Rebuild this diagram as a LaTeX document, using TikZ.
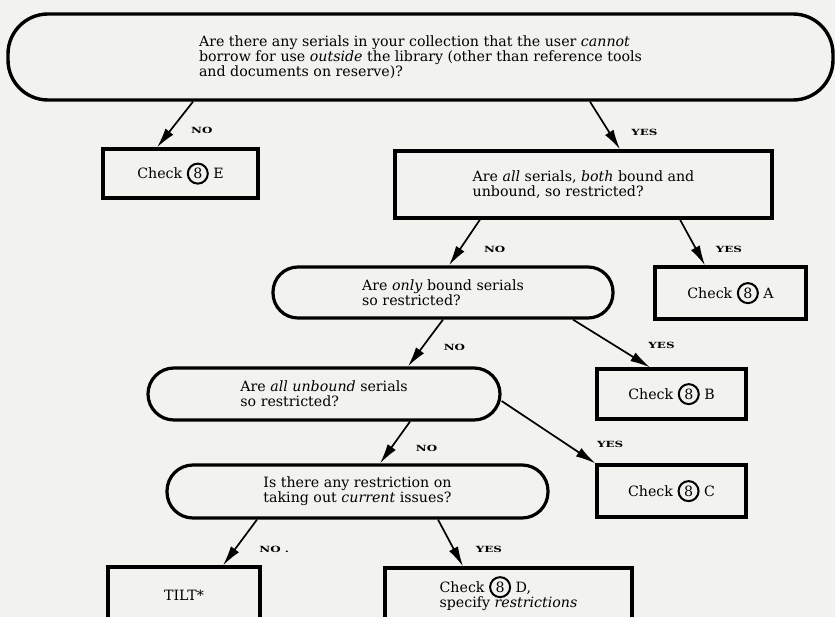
\documentclass[tikz,border=0pt]{standalone}
\usepackage{fontspec}
\setmainfont{DejaVu Serif}
\newfontfamily\lblfont[FakeStretch=1.4]{DejaVu Serif}
\usetikzlibrary{arrows.meta}
\definecolor{paper}{RGB}{242,242,239}
\newcommand{\circnum}[1]{\smash{\tikz[baseline=(cn.base)]\node[circle,draw=black,line width=2pt,inner sep=1.5pt,minimum width=0pt,minimum height=0pt,minimum size=20pt] (cn) {#1};}}
\tikzset{
	box/.style={draw=black,line width=3.2pt,inner sep=0pt,align=left,font=\fontsize{14.2}{15}\selectfont},
	stadium/.style={box,rounded corners=#1},
	stadium/.default=26pt,
	flow/.style={line width=1.7pt,-{Latex[length=20pt,width=10pt]}},
	lbl/.style={anchor=west,inner sep=0pt,font=\lblfont\bfseries\fontsize{8.5}{9}\selectfont}
}
\begin{document}
\begin{tikzpicture}[x=1pt,y=-1pt]
	\useasboundingbox (0,0) rectangle (835,617);
	\clip (0,0) rectangle (835,617);
	\fill[paper] (0,0) rectangle (835,617);
	% questions
	\node[stadium=40pt,line width=3.4pt,minimum width=825pt,minimum height=86pt] (top) at (420.5,57) {Are there any serials in your collection that the user \emph{cannot}\\borrow for use \emph{outside} the library (other than reference tools\\and documents on reserve)?};
	\node[box,minimum width=377pt,minimum height=67pt] (allq) at (583.5,184.5) {Are \emph{all} serials, \emph{both} bound and\\unbound, so restricted?};
	\node[stadium=25pt,minimum width=340pt,minimum height=51pt] (onlyq) at (443,292.5) {Are \emph{only} bound serials\\so restricted?};
	\node[stadium,minimum width=352pt,minimum height=52pt] (unboundq) at (324,394) {Are \emph{all unbound} serials\\so restricted?};
	\node[stadium,minimum width=381pt,minimum height=53pt] (currq) at (357.5,491.5) {Is there any restriction on\\taking out \emph{current} issues?};
	% answers
	\node[box,minimum width=155pt,minimum height=49pt] (checkE) at (180.5,173.5) {Check \circnum{8} E};
	\node[box,minimum width=151pt,minimum height=52pt] (checkA) at (730.5,293) {Check \circnum{8} A};
	\node[box,minimum width=149pt,minimum height=50pt] (checkB) at (671.5,394) {Check \circnum{8} B};
	\node[box,minimum width=149pt,minimum height=52pt] (checkC) at (671.5,491) {Check \circnum{8} C};
	\node[box,minimum width=152pt,minimum height=56pt] (tilt) at (184,595) {TILT*};
	\node[box,minimum width=247pt,minimum height=56pt] (checkD) at (508.5,596) {Check \circnum{8} D,\\specify \emph{restrictions}};
	% arrows
	\path [flow] ([xshift=-227.5pt]top.south) edge node[lbl,pos=.63,xshift=20pt] {NO} ([xshift=-23.5pt]checkE.north);
	\path [flow] ([xshift=169.5pt]top.south) edge node[lbl,pos=.65,xshift=21pt] {YES} ([xshift=36.5pt]allq.north);
	\path [flow] ([xshift=-103.5pt]allq.south) edge node[lbl,pos=.64,xshift=23pt] {NO} ([xshift=6pt]onlyq.north);
	\path [flow] ([xshift=96.5pt]allq.south) edge node[lbl,pos=.64,xshift=19pt] {YES} ([xshift=-25.5pt]checkA.north);
	\path [flow] (onlyq.south) edge node[lbl,pos=.6,xshift=21pt] {NO} ([xshift=84pt]unboundq.north);
	\path [flow] ([xshift=130pt]onlyq.south) edge node[lbl,pos=.54,xshift=33pt] {YES} ([xshift=-21.5pt]checkB.north);
	\path [flow] ([yshift=-7pt]unboundq.east) edge node[lbl,pos=.69,xshift=30pt] {YES} (checkC.north west);
	\path [flow] ([xshift=86pt]unboundq.south) edge node[lbl,pos=.63,xshift=24pt] {NO} ([xshift=22.5pt]currq.north);
	\path [flow] ([xshift=-100.5pt]currq.south) edge node[lbl,pos=.66,xshift=24pt] {NO .} ([xshift=39pt]tilt.north);
	\path [flow] ([xshift=80.5pt]currq.south) edge node[lbl,pos=.64,xshift=21pt] {YES} ([xshift=-45.5pt]checkD.north);
\end{tikzpicture}
\end{document}
